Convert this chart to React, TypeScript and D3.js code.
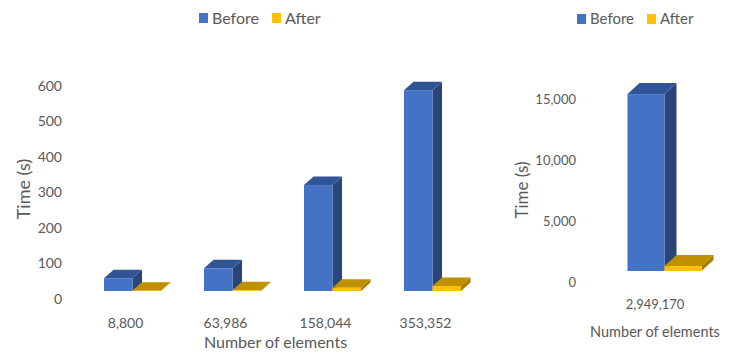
import React from "react";
import * as d3 from "d3";

// Run times before and after the optimisation, grouped by mesh size
const smallCategories = ["8,800", "63,986", "158,044", "353,352"];
const smallBefore = [36, 64, 298, 565];
const smallAfter = [1, 2, 9, 14];
const smallTicks = [0, 100, 200, 300, 400, 500, 600];

const largeCategories = ["2,949,170"];
const largeBefore = [14500];
const largeAfter = [400];
const largeTicks = [0, 5000, 10000, 15000];

const seriesNames = ["Before", "After"];

const FONT = "Lato, 'Open Sans', sans-serif";
const TEXT = "#595959";

const palette: Record<string, { front: string; top: string; side: string }> = {
  Before: { front: "#4472C4", top: "#2F5597", side: "#2A4578" },
  After: { front: "#FFC000", top: "#BF9000", side: "#A67C00" },
};

type Panel = {
  categories: string[];
  before: number[];
  after: number[];
  ticks: number[];
  yMax: number;
  baseY: number;
  pxPerUnit: number;
  bandStart: number;
  bandEnd: number;
  paddingInner: number;
  depth: [number, number];
  tickRight: number;
  tickSize: number;
  labelShift: [number, number];
  catBaseline: number;
  catSize: number;
  titleBaseline: number;
  titleSize: number;
  yTitleX: number;
  yTitleY: number;
  yTitleSize: number;
  legendX: number;
  legendY: number;
  legendSize: number;
  legendGap: number;
  tickFormat: (v: number) => string;
};

function Bar3D({ x, w, y0, y1, depth, colors }: any) {
  const [dx, dy] = depth;
  const top = `${x},${y1} ${x + dx},${y1 + dy} ${x + w + dx},${y1 + dy} ${x + w},${y1}`;
  const side = `${x + w},${y1} ${x + w + dx},${y1 + dy} ${x + w + dx},${y0 + dy} ${x + w},${y0}`;
  return (
    <g>
      <polygon points={side} fill={colors.side} />
      <polygon points={top} fill={colors.top} />
      <rect x={x} y={y1} width={w} height={Math.max(0, y0 - y1)} fill={colors.front} />
    </g>
  );
}

function Chart3D({ p }: { p: Panel }) {
  const y = d3
    .scaleLinear()
    .domain([0, p.yMax])
    .range([p.baseY, p.baseY - p.yMax * p.pxPerUnit]);
  const x = d3
    .scaleBand<string>()
    .domain(p.categories)
    .range([p.bandStart, p.bandEnd])
    .paddingInner(p.paddingInner)
    .paddingOuter(0);
  const xs = d3
    .scaleBand<string>()
    .domain(seriesNames)
    .range([0, x.bandwidth()]);

  const [lx, ly] = p.labelShift;

  return (
    <g fontFamily={FONT} fill={TEXT}>
      {/* value axis labels */}
      {p.ticks.map((t) => (
        <text
          key={t}
          x={p.tickRight}
          y={y(t) + ly}
          dy="0.35em"
          textAnchor="end"
          fontSize={p.tickSize}
        >
          {p.tickFormat(t)}
        </text>
      ))}

      {/* bars */}
      {p.categories.map((c, i) => {
        const bx = x(c) as number;
        return (
          <g key={c}>
            {seriesNames.map((s) => {
              const v = s === "Before" ? p.before[i] : p.after[i];
              return (
                <Bar3D
                  key={s}
                  x={bx + (xs(s) as number)}
                  w={xs.bandwidth()}
                  y0={y(0)}
                  y1={y(v)}
                  depth={p.depth}
                  colors={palette[s]}
                />
              );
            })}
            <text
              x={bx + x.bandwidth() / 2 + lx}
              y={p.catBaseline}
              textAnchor="middle"
              fontSize={p.catSize}
            >
              {c}
            </text>
          </g>
        );
      })}

      {/* axis titles */}
      <text
        x={(p.bandStart + p.bandEnd) / 2 + lx}
        y={p.titleBaseline}
        textAnchor="middle"
        fontSize={p.titleSize}
      >
        Number of elements
      </text>
      <text
        transform={`translate(${p.yTitleX},${p.yTitleY}) rotate(-90)`}
        textAnchor="middle"
        dy="0.35em"
        fontSize={p.yTitleSize}
      >
        Time (s)
      </text>

      {/* legend */}
      <g transform={`translate(${p.legendX},${p.legendY})`}>
        {seriesNames.map((s, i) => (
          <g key={s} transform={`translate(${i * p.legendGap},0)`}>
            <rect x={0} y={-5} width={9} height={10} fill={palette[s].front} />
            <text x={13} dy="0.35em" fontSize={p.legendSize}>
              {s}
            </text>
          </g>
        ))}
      </g>
    </g>
  );
}

const fmt = d3.format(",");

const smallPanel: Panel = {
  categories: smallCategories,
  before: smallBefore,
  after: smallAfter,
  ticks: smallTicks,
  yMax: 600,
  baseY: 291,
  pxPerUnit: 0.3555,
  bandStart: 104,
  bandEnd: 104 + 3 * 100 + 57,
  paddingInner: 0.43,
  depth: [9.5, -8.5],
  tickRight: 62,
  tickSize: 14,
  labelShift: [-7, 8],
  catBaseline: 328,
  catSize: 14,
  titleBaseline: 348,
  titleSize: 16,
  yTitleX: 24,
  yTitleY: 189,
  yTitleSize: 18,
  legendX: 199,
  legendY: 18,
  legendSize: 16,
  legendGap: 73,
  tickFormat: fmt,
};

const largePanel: Panel = {
  categories: largeCategories,
  before: largeBefore,
  after: largeAfter,
  ticks: largeTicks,
  yMax: 15000,
  baseY: 271,
  pxPerUnit: 183 / 15000,
  bandStart: 627.5,
  bandEnd: 627.5 + 74,
  paddingInner: 0,
  depth: [12, -11],
  tickRight: 576,
  tickSize: 13,
  labelShift: [-9.5, 11],
  catBaseline: 309,
  catSize: 13,
  titleBaseline: 337,
  titleSize: 14.5,
  yTitleX: 522,
  yTitleY: 190,
  yTitleSize: 17,
  legendX: 577,
  legendY: 19,
  legendSize: 15,
  legendGap: 70,
  tickFormat: fmt,
};

export default function App() {
  return (
    <div style={{ position: "absolute", left: 0, top: 0 }}>
      <svg width={733} height={361} style={{ display: "block", background: "#ffffff" }}>
        <Chart3D p={smallPanel} />
        <Chart3D p={largePanel} />
      </svg>
    </div>
  );
}
